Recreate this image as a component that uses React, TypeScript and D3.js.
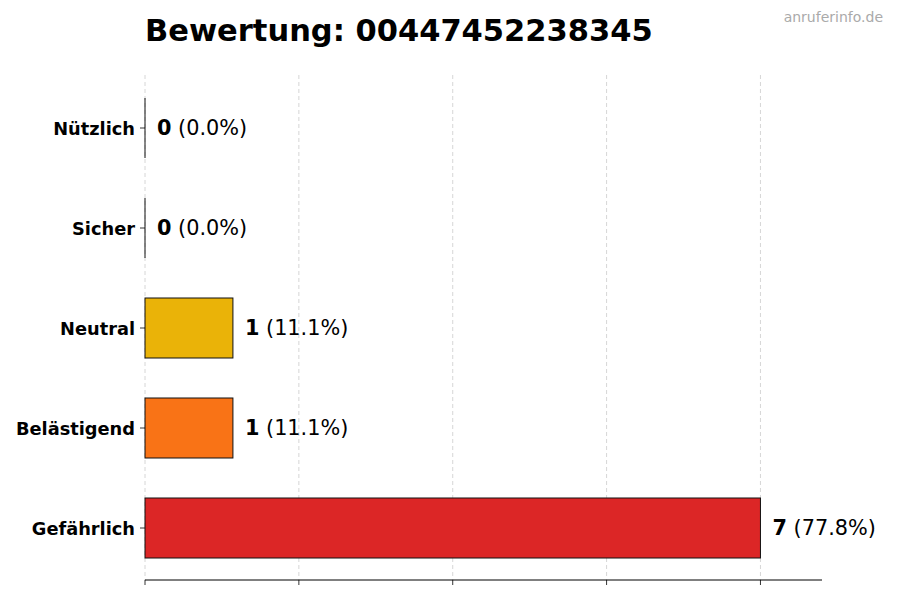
import * as d3 from "d3"

const categories = ["Nützlich", "Sicher", "Neutral", "Belästigend", "Gefährlich"]
const counts = [0, 0, 1, 1, 7]
const percents = ["0.0%", "0.0%", "11.1%", "11.1%", "77.8%"]
const colors = ["#22c55e", "#3b82f6", "#eab308", "#f97316", "#dc2626"]
const titleText = "Bewertung: 00447452238345"
const watermark = "anruferinfo.de"

const W = 900
const H = 600
const left = 145
const right = 822
const top = 78
const bottom = 578
const axisY = 580

const App = () => {
  const maxVal = d3.max(counts) || 1
  const x = d3.scaleLinear().domain([0, maxVal * 1.1]).range([left, right])
  const y = d3
    .scaleBand<string>()
    .domain(categories)
    .range([top, bottom])
    .paddingInner(0.4)
    .paddingOuter(0.2)
  const ticks = [0, 0.25, 0.5, 0.75, 1].map((f) => f * maxVal)
  const font = "'DejaVu Sans', sans-serif"

  return (
    <svg
      width={W}
      height={H}
      style={{ position: "absolute", left: 0, top: 0 }}
      fontFamily={font}
    >
      <rect width={W} height={H} fill="#fff" />
      {ticks.map((t, i) => (
        <line
          key={"g" + i}
          x1={x(t)}
          x2={x(t)}
          y1={75}
          y2={axisY}
          stroke="#cccccc"
          strokeDasharray="4,3"
          strokeWidth={0.8}
        />
      ))}
      {categories.map((c, i) => {
        const y0 = y(c) || 0
        const w = x(counts[i]) - x(0)
        const cy = y0 + y.bandwidth() / 2
        return (
          <g key={c}>
            {w > 0 ? (
              <rect
                x={x(0)}
                y={y0}
                width={w}
                height={y.bandwidth()}
                fill={colors[i]}
                stroke="#111"
                strokeWidth={1}
              />
            ) : (
              <line
                x1={x(0)}
                x2={x(0)}
                y1={y0}
                y2={y0 + y.bandwidth()}
                stroke="#111"
                strokeWidth={1}
              />
            )}
            <line x1={left - 5} x2={left} y1={cy} y2={cy} stroke="#000" strokeWidth={0.8} />
            <text
              x={left - 10}
              y={cy}
              textAnchor="end"
              dominantBaseline="central"
              fontSize={17.8}
              fontWeight="bold"
            >
              {c}
            </text>
            <text x={x(counts[i]) + 12} y={cy} dominantBaseline="central" fontSize={20.8}>
              <tspan fontWeight="bold">{counts[i]}</tspan>
              <tspan> ({percents[i]})</tspan>
            </text>
          </g>
        )
      })}
      <line x1={left} x2={right} y1={axisY} y2={axisY} stroke="#000" strokeWidth={1} />
      {ticks.map((t, i) => (
        <line
          key={"t" + i}
          x1={x(t)}
          x2={x(t)}
          y1={axisY}
          y2={axisY + 5}
          stroke="#000"
          strokeWidth={0.8}
        />
      ))}
      <text x={145} y={41} fontSize={30.5} fontWeight="bold">
        {titleText}
      </text>
      <text x={883} y={22} textAnchor="end" fontSize={14} fill="#aaaaaa">
        {watermark}
      </text>
    </svg>
  )
}

export default App
